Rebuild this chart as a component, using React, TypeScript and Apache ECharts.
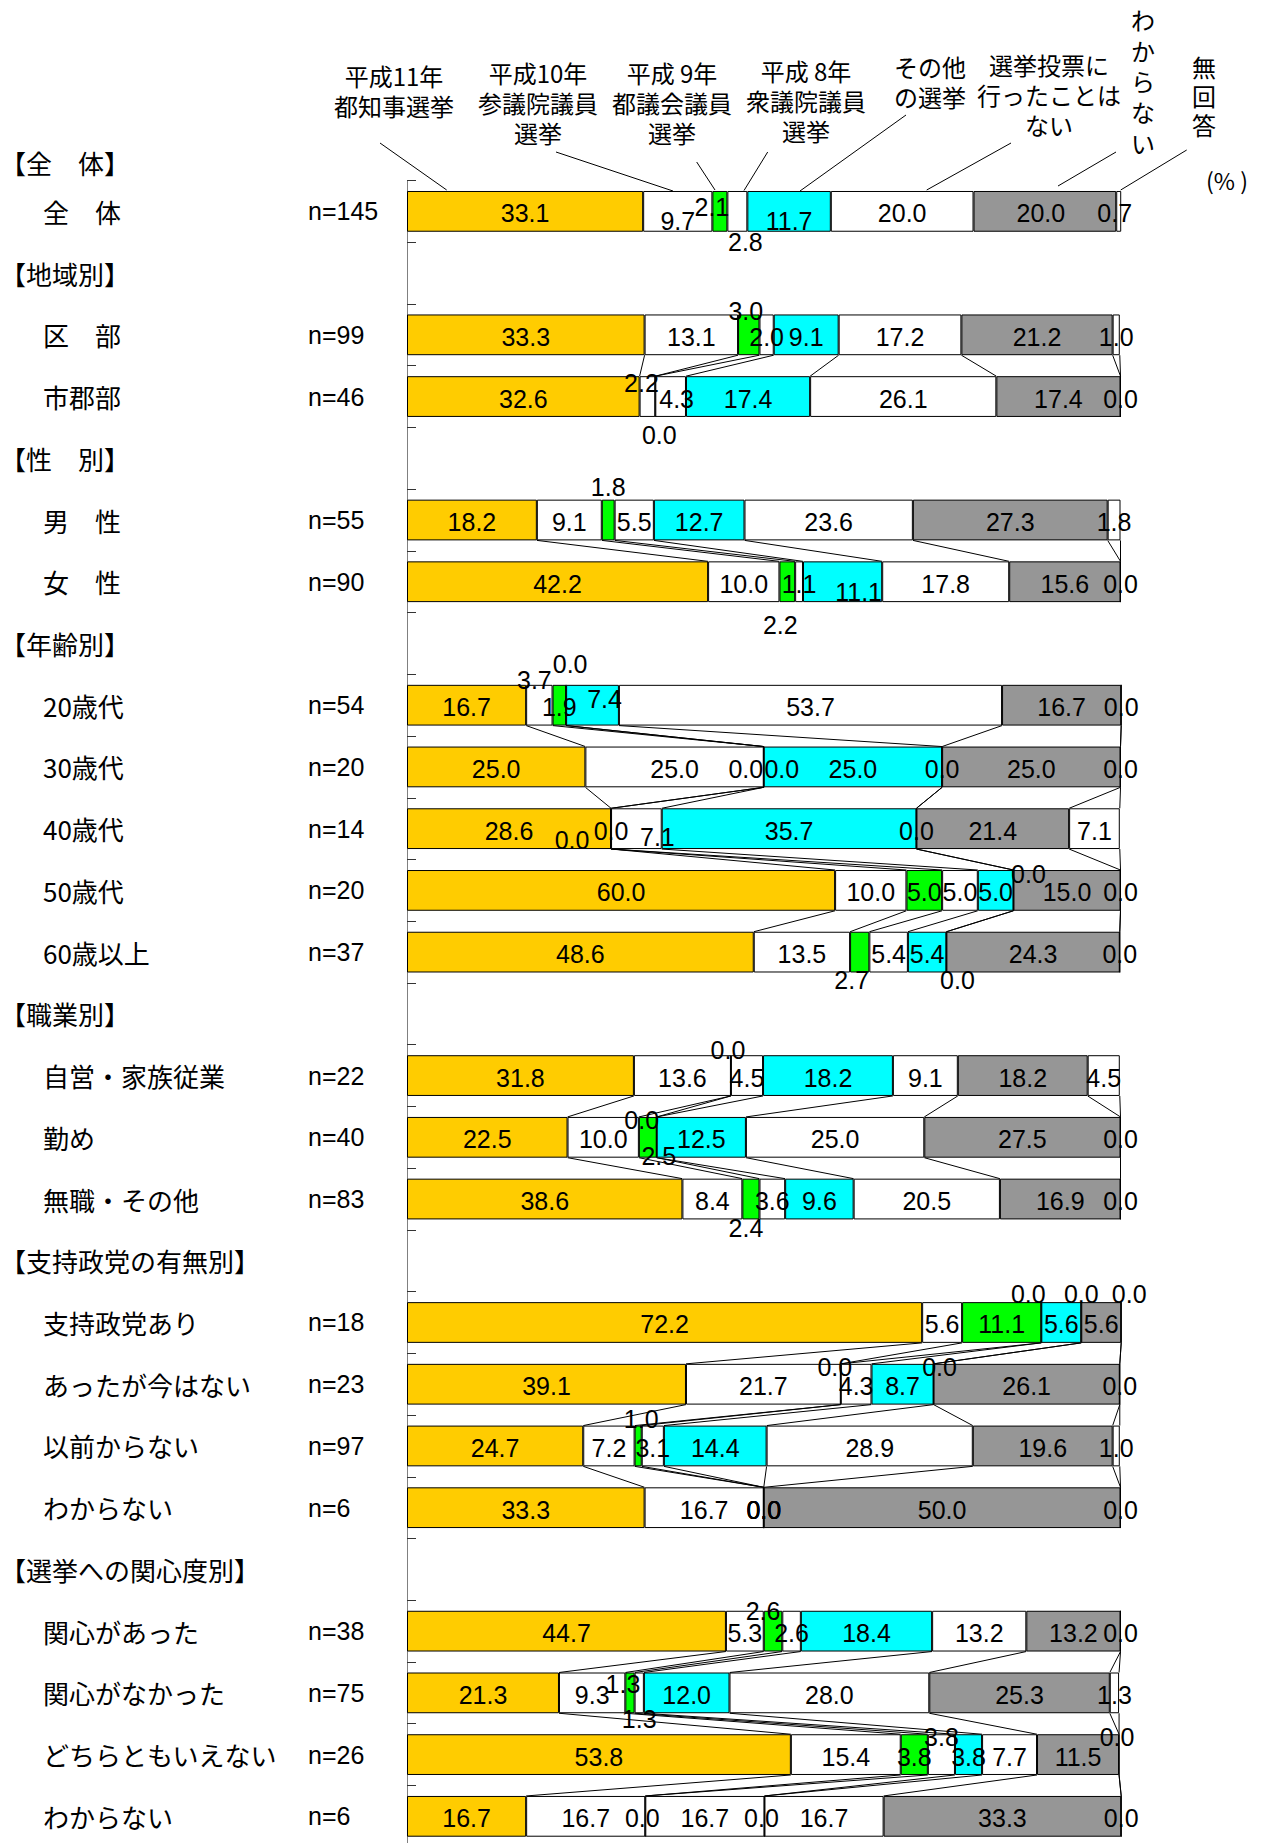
import React, { useEffect, useRef } from 'react';
import * as echarts from 'echarts';

// ---- categories (rows, top to bottom) ----
const rowNames = [
  '全　体',
  '【地域別】', '区　部', '市郡部',
  '【性　別】', '男　性', '女　性',
  '【年齢別】', '20歳代', '30歳代', '40歳代', '50歳代', '60歳以上',
  '【職業別】', '自営・家族従業', '勤め', '無職・その他',
  '【支持政党の有無別】', '支持政党あり', 'あったが今はない', '以前からない', 'わからない',
  '【選挙への関心度別】', '関心があった', '関心がなかった', 'どちらともいえない', 'わからない',
];
const sampleSizes = [
  'n=145',
  '', 'n=99', 'n=46',
  '', 'n=55', 'n=90',
  '', 'n=54', 'n=20', 'n=14', 'n=20', 'n=37',
  '', 'n=22', 'n=40', 'n=83',
  '', 'n=18', 'n=23', 'n=97', 'n=6',
  '', 'n=38', 'n=75', 'n=26', 'n=6',
];

// ---- series (one value per row; null for heading rows) ----
const seriesNames = [
  '平成11年都知事選挙', '平成10年参議院議員選挙', '平成9年都議会議員選挙', '平成8年衆議院議員選挙',
  'その他の選挙', '選挙投票に行ったことはない', 'わからない', '無回答',
];
const tokyoGov1999 = [33.1, null, 33.3, 32.6, null, 18.2, 42.2, null, 16.7, 25.0, 28.6, 60.0, 48.6, null, 31.8, 22.5, 38.6, null, 72.2, 39.1, 24.7, 33.3, null, 44.7, 21.3, 53.8, 16.7];
const upperHouse1998 = [9.7, null, 13.1, 2.2, null, 9.1, 10.0, null, 3.7, 25.0, 0.0, 10.0, 13.5, null, 13.6, 10.0, 8.4, null, 5.6, 21.7, 7.2, 16.7, null, 5.3, 9.3, 15.4, 16.7];
const metroAssembly1997 = [2.1, null, 3.0, 0.0, null, 1.8, 2.2, null, 1.9, 0.0, 0.0, 5.0, 2.7, null, 0.0, 2.5, 2.4, null, 11.1, 0.0, 1.0, 0.0, null, 2.6, 1.3, 3.8, 0.0];
const lowerHouse1996 = [2.8, null, 2.0, 4.3, null, 5.5, 1.1, null, 0.0, 0.0, 7.1, 5.0, 5.4, null, 4.5, 0.0, 3.6, null, 0.0, 4.3, 3.1, 0.0, null, 2.6, 1.3, 3.8, 16.7];
const otherElection = [11.7, null, 9.1, 17.4, null, 12.7, 11.1, null, 7.4, 25.0, 35.7, 5.0, 5.4, null, 18.2, 12.5, 9.6, null, 5.6, 8.7, 14.4, 0.0, null, 18.4, 12.0, 3.8, 0.0];
const neverVoted = [20.0, null, 17.2, 26.1, null, 23.6, 17.8, null, 53.7, 0.0, 0.0, 0.0, 0.0, null, 9.1, 25.0, 20.5, null, 0.0, 0.0, 28.9, 0.0, null, 13.2, 28.0, 7.7, 16.7];
const dontKnow = [20.0, null, 21.2, 17.4, null, 27.3, 15.6, null, 16.7, 25.0, 21.4, 15.0, 24.3, null, 18.2, 27.5, 16.9, null, 5.6, 26.1, 19.6, 50.0, null, 13.2, 25.3, 11.5, 33.3];
const noAnswer = [0.7, null, 1.0, 0.0, null, 1.8, 0.0, null, 0.0, 0.0, 7.1, 0.0, 0.0, null, 4.5, 0.0, 0.0, null, 0.0, 0.0, 1.0, 0.0, null, 0.0, 1.3, 0.0, 0.0];
const seriesValues = [tokyoGov1999, upperHouse1998, metroAssembly1997, lowerHouse1996, otherElection, neverVoted, dontKnow, noAnswer];

// groups of consecutive rows joined by series lines [first, last]
const connectedGroups = [[2, 3], [5, 6], [8, 12], [14, 16], [18, 21], [23, 26]];

// ---- styles ----
const seriesColors = ['#FFCC00', '#FFFFFF', '#00FF00', '#FFFFFF', '#00FFFF', '#FFFFFF', '#969696', '#FFFFFF'];
const CJK = 'Noto Sans CJK JP';
const LATIN = 'Liberation Sans';
const BAR_RATIO = 0.66;
const LABEL_BASE_DY = 2;

// label nudges [dx, dy] for moved data labels: row -> series -> offset
const labelNudges: Record<number, Record<number, [number, number]>> = {
  0: { 1: [0, 8], 2: [-8, -6], 3: [8, 29], 4: [0, 8], 6: [-4, 0], 7: [-4, 0] },
  2: { 2: [-3, -26] },
  3: { 1: [-6, -16], 2: [4, 36], 3: [6, 0] },
  5: { 2: [0, -35] },
  6: { 2: [-7, 41], 4: [16, 8] },
  8: { 1: [-5, -27], 3: [4, -43], 4: [12, -8] },
  9: { 2: [-18, 0], 3: [18, 0] },
  10: { 1: [-39, 9], 3: [21, 6] },
  11: { 5: [15, -18] },
  12: { 2: [-8, 26], 5: [11, 26] },
  14: { 2: [-3, -28] },
  15: { 2: [11, 17], 3: [-15, -19] },
  16: { 2: [-5, 27] },
  18: { 3: [-13, -30], 5: [0, -30], 7: [8, -30] },
  19: { 2: [-6, -19], 5: [6, -19] },
  20: { 2: [3, -29] },
  23: { 2: [-10, -22] },
  24: { 2: [-7, -11], 3: [0, 24] },
  25: { 3: [0, -20], 7: [-2, -20] },
  26: { 2: [-3, 0], 4: [-3, 0] },
};

// header legend texts and leader lines (annotation)
const headerTexts = [
  { lines: ['平成11年', '都知事選挙'], x: 394, y: 60, lh: 30 },
  { lines: ['平成10年', '参議院議員', '選挙'], x: 538, y: 57, lh: 30 },
  { lines: ['平成 9年', '都議会議員', '選挙'], x: 672, y: 57, lh: 30 },
  { lines: ['平成 8年', '衆議院議員', '選挙'], x: 806, y: 55, lh: 30 },
  { lines: ['その他', 'の選挙'], x: 930, y: 51, lh: 30 },
  { lines: ['選挙投票に', '行ったことは', 'ない'], x: 1049, y: 49, lh: 30 },
  { lines: ['わ', 'か', 'ら', 'な', 'い'], x: 1143, y: 4, lh: 30.75 },
  { lines: ['無', '回', '答'], x: 1204, y: 52, lh: 29 },
];
const leaderLines = [
  [380, 143, 446.7, 190],
  [556, 152, 673, 191],
  [696.7, 162, 715, 190],
  [767.7, 152, 744, 190.5],
  [906, 115, 800, 191],
  [1011, 143, 926.7, 190],
  [1116, 152, 1058, 186],
  [1186.7, 150, 1120.7, 190],
];

function buildConnectors() {
  const out: number[][] = [];
  connectedGroups.forEach(([first, last]) => {
    for (let r = first; r < last; r++) {
      let cumA = 0;
      let cumB = 0;
      for (let k = 0; k < seriesValues.length; k++) {
        cumA += seriesValues[k][r] as number;
        cumB += seriesValues[k][r + 1] as number;
        out.push([cumA, r, cumB, r + 1]);
      }
    }
  });
  return out;
}

export default function App() {
  const ref = useRef<HTMLDivElement>(null);
  useEffect(() => {
    if (!ref.current) return;
    const chart = echarts.init(ref.current, null, { renderer: 'svg' });

    const barSeries = seriesValues.map((vals, k) => ({
      type: 'bar',
      name: seriesNames[k],
      stack: 'total',
      clip: false,
      barCategoryGap: `${Math.round((1 - BAR_RATIO) * 100)}%`,
      itemStyle: { color: seriesColors[k], borderColor: '#000', borderWidth: 1 },
      label: {
        show: true,
        position: 'inside',
        color: '#000',
        fontFamily: LATIN,
        fontSize: 25,
        textBorderWidth: 0,
        offset: [0, LABEL_BASE_DY],
        formatter: (p: any) => (p.value == null || p.value === '-' ? '' : Number(p.value).toFixed(1)),
      },
      emphasis: { disabled: true },
      data: vals.map((v, r) => {
        if (v == null) return '-';
        const nudge = labelNudges[r] && labelNudges[r][k];
        return nudge ? { value: v, label: { offset: [nudge[0], nudge[1] + LABEL_BASE_DY] } } : v;
      }),
      z: 2,
    }));

    const connectorSeries = {
      type: 'custom',
      silent: true,
      clip: false,
      encode: { x: [0, 2], y: [1, 3] },
      data: buildConnectors(),
      renderItem: (params: any, api: any) => {
        const a = api.coord([api.value(0), api.value(1)]);
        const b = api.coord([api.value(2), api.value(3)]);
        const half = (api.size([0, 1])[1] * BAR_RATIO) / 2;
        return {
          type: 'line',
          shape: { x1: a[0], y1: a[1] + half, x2: b[0], y2: b[1] - half },
          style: { stroke: '#000', lineWidth: 1 },
        };
      },
      z: 1,
    };

    const headerLineTexts: any[] = [];
    headerTexts.forEach((h) => {
      h.lines.forEach((line, i) => {
        headerLineTexts.push({
          type: 'text', x: h.x, y: h.y + h.lh * (i + 0.5),
          style: { text: line, fontFamily: CJK, fontSize: 24, lineHeight: 24, fill: '#000', align: 'center', verticalAlign: 'middle' },
        });
      });
    });

    const graphics: any[] = [
      {
        type: 'text', x: 0, y: 162,
        style: { text: '【全　体】', fontFamily: CJK, fontSize: 26, fill: '#000', align: 'left', verticalAlign: 'middle' },
      },
      {
        type: 'text', x: 1227, y: 180,
        style: { text: '(% )', fontFamily: CJK, fontSize: 23, fill: '#000', align: 'center', verticalAlign: 'middle' },
      },
      ...headerLineTexts,
      ...leaderLines.map((l) => ({
        type: 'line',
        shape: { x1: l[0], y1: l[1], x2: l[2], y2: l[3] },
        style: { stroke: '#000', lineWidth: 1 },
      })),
    ];

    chart.setOption({
      animation: false,
      grid: { left: 407, top: 180.5, width: 713.5, height: 1666.7, containLabel: false, outerBoundsMode: 'none' },
      xAxis: {
        type: 'value', min: 0, max: 100, show: false,
      },
      yAxis: {
        type: 'category',
        inverse: true,
        data: rowNames.map((_, i) => String(i)),
        axisLine: { show: true, lineStyle: { color: '#808080', width: 1 } },
        axisTick: { show: true, inside: true, length: 9, lineStyle: { color: '#333' } },
        splitLine: { show: false },
        axisLabel: {
          interval: 0,
          margin: 8,
          formatter: (_v: string, i: number) =>
            sampleSizes[i] === '' ? `{h|${rowNames[i]}}` : `{a|${rowNames[i]}}{b|${sampleSizes[i]}}`,
          rich: {
            h: { width: 399, align: 'left', fontFamily: CJK, fontSize: 26, color: '#000' },
            a: { width: 265, align: 'left', fontFamily: CJK, fontSize: 26, color: '#000' },
            b: { width: 91, align: 'left', fontFamily: LATIN, fontSize: 25, color: '#000' },
          },
        },
      },
      series: [...barSeries, connectorSeries],
      graphic: graphics,
    });
    return () => chart.dispose();
  }, []);
  return <div ref={ref} style={{ position: 'absolute', left: 0, top: 0, width: 1263, height: 1843 }} />;
}
